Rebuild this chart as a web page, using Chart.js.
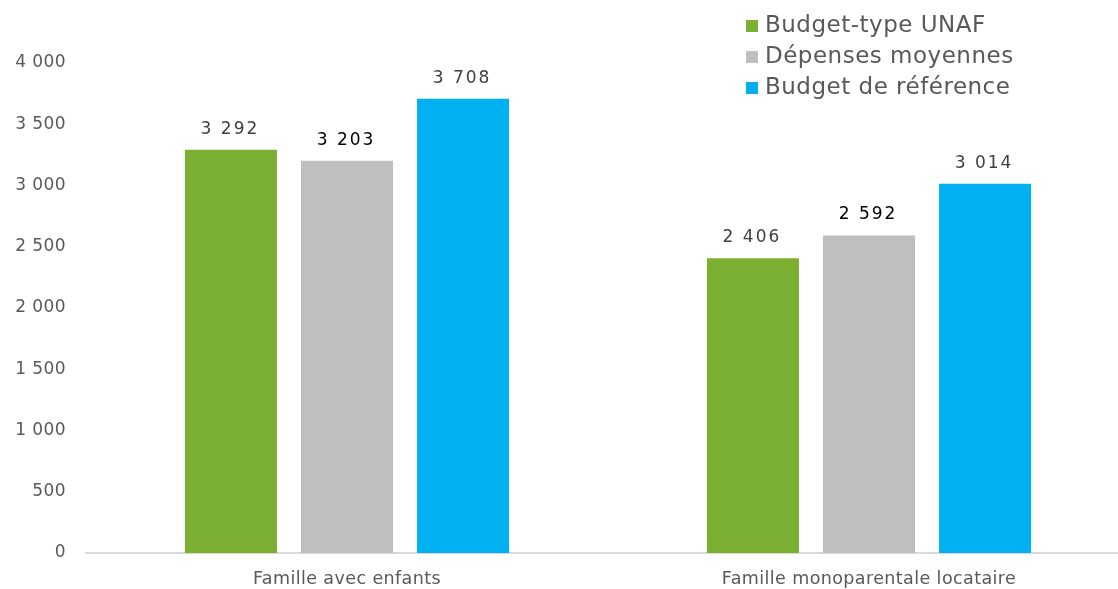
<!DOCTYPE html>
<html>
<head>
<meta charset="utf-8">
<script src="https://cdn.jsdelivr.net/npm/chart.js@4.4.1/dist/chart.umd.min.js"></script>
<style>
  html, body { margin: 0; padding: 0; background: #fff; }
  #wrap { position: relative; width: 1118px; height: 589px; overflow: hidden; }
  #plot { position: absolute; left: 0; top: 0; width: 1130px; height: 589px; }
  #legend {
    position: absolute; left: 746px; top: 9px; margin: 0; padding: 0;
    list-style: none; font-family: "DejaVu Sans", Verdana, sans-serif;
    font-size: 23px; letter-spacing: 0.5px; color: #595959; line-height: 31px;
  }
  #legend li { display: flex; align-items: center; }
  #legend .box { width: 12px; height: 12px; margin-right: 7px; margin-top: 2px; }
</style>
</head>
<body>
<div id="wrap">
  <div id="plot"><canvas id="budgetChart"></canvas></div>
  <ul id="legend"></ul>
</div>
<script>
const categories = ['Famille avec enfants', 'Famille monoparentale locataire'];
const seriesNames = ['Budget-type UNAF', 'Dépenses moyennes', 'Budget de référence'];
const unafValues = [3292, 2406];
const depensesValues = [3203, 2592];
const referenceValues = [3708, 3014];
const yTicks = [0, 500, 1000, 1500, 2000, 2500, 3000, 3500, 4000];

const FONT = '"DejaVu Sans", Verdana, sans-serif';

function formatFr(v) {
    return String(v).replace(/\B(?=(\d{3})+(?!\d))/g, ' ');
}

// value labels above each bar
const barValueLabels = {
    id: 'barValueLabels',
    afterDatasetsDraw(chart) {
        const ctx = chart.ctx;
        ctx.save();
        ctx.letterSpacing = '2px';
        ctx.textAlign = 'center';
        ctx.textBaseline = 'bottom';
        chart.data.datasets.forEach((ds, i) => {
            const meta = chart.getDatasetMeta(i);
            ctx.fillStyle = ds.labelColor;
            ctx.font = ds.labelFont;
            meta.data.forEach((bar, j) => {
                ctx.fillText(formatFr(ds.data[j]), bar.x - 1, bar.y - 12);
            });
        });
        ctx.restore();
    }
};

// a little letter spacing on axis text
const spacedText = {
    id: 'spacedText',
    beforeLayout(chart) { chart.ctx.letterSpacing = '0.4px'; },
    beforeDraw(chart) { chart.ctx.letterSpacing = '0.4px'; }
};

const chart = new Chart(document.getElementById('budgetChart'), {
    type: 'bar',
    data: {
        labels: categories,
        datasets: [
            {
                label: seriesNames[0], data: unafValues,
                backgroundColor: '#7BAF31',
                labelColor: '#404040', labelFont: '17px ' + FONT
            },
            {
                label: seriesNames[1], data: depensesValues,
                backgroundColor: '#BFBFBF',
                labelColor: '#000000', labelFont: '17px ' + FONT
            },
            {
                label: seriesNames[2], data: referenceValues,
                backgroundColor: '#00B0F0',
                labelColor: '#404040', labelFont: '17px ' + FONT
            }
        ]
    },
    options: {
        responsive: true,
        maintainAspectRatio: false,
        animation: false,
        datasets: {
            bar: { categoryPercentage: 0.667, barPercentage: 0.793 }
        },
        layout: { padding: { top: 63, left: 0, right: 0, bottom: 0 } },
        scales: {
            x: {
                afterFit(scale) { scale.height = 36; },
                grid: { display: false },
                border: { display: true, color: '#D9D9D9', width: 2 },
                ticks: {
                    color: '#595959', padding: 8,
                    font: { family: FONT, size: 17.5 }
                }
            },
            y: {
                min: 0, max: 4000,
                afterFit(scale) { scale.width = 86; },
                afterBuildTicks(axis) { axis.ticks = yTicks.map(v => ({ value: v })); },
                grid: { display: false },
                border: { display: false },
                ticks: {
                    color: '#595959', padding: 12,
                    font: { family: FONT, size: 17 },
                    callback: v => formatFr(v)
                }
            }
        },
        plugins: {
            legend: { display: false },
            tooltip: { enabled: false }
        }
    },
    plugins: [spacedText, barValueLabels]
});

// vertical legend, top right
const legendEl = document.getElementById('legend');
chart.data.datasets.forEach(ds => {
    const li = document.createElement('li');
    const box = document.createElement('span');
    box.className = 'box';
    box.style.background = ds.backgroundColor;
    li.appendChild(box);
    li.appendChild(document.createTextNode(ds.label));
    legendEl.appendChild(li);
});
</script>
</body>
</html>
